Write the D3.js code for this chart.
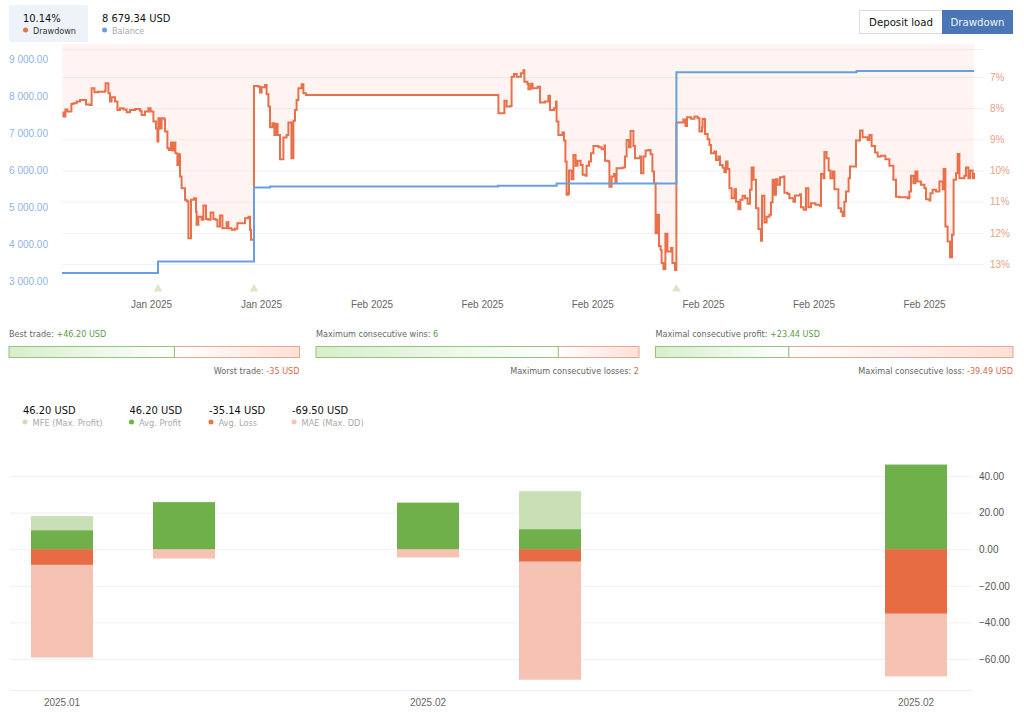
<!DOCTYPE html>
<html>
<head>
<meta charset="utf-8">
<script src="https://cdn.jsdelivr.net/npm/d3@7"></script>
<style>
  body { margin: 0; background: #fff; }
  text { font-family: "DejaVu Sans Condensed", "DejaVu Sans", sans-serif; }
  .axis text { font-family: "Liberation Sans", Arial, sans-serif; font-size: 10px; }
</style>
</head>
<body>
<div id="chart"></div>
<script>
// drawdown curve, time in trading steps, value in percent
const ddTime = [0.2,0.7,1.7,2.7,4.7,5.7,7.3,9,11,12,14,14.8,16.2,18.2,21.5,21.8,23.2,24,24.8,26.5,27.7,29,30.7,32.3,34,36.5,39,39.8,41.5,43.2,44.3,45.7,47,47.7,48.2,49,49.8,51.2,51.5,52.7,53.5,54.5,55.3,56.2,56.7,57.7,58.3,59,59.8,61.5,62.3,63.2,64.5,66,67,67.3,68.2,69.8,70.7,72,73.2,74.3,75.7,76.8,77.7,79,80.2,82.3,83.2,84.8,86.5,87.7,89.8,91.5,93.2,94,94.5,
  96,98.2,99,99.8,101.5,102.3,103.2,104,105.2,106.2,107.2,107.8,109,110.7,112.3,113.2,114.7,115.7,116.5,117.3,118.2,119.8,120.7,122,
  218.2,221.2,222.3,224.3,224.8,226,227.3,229.5,230.7,231.2,232.7,233.2,234.3,235.3,237.8,239,241.5,243.2,244,246,247,247.3,248.2,250.2,251,251.7,252.3,253.2,253.5,254.8,255.7,256.8,257.8,259.3,260.3,261.8,262.3,263.5,264.5,265.7,268.2,269.8,271.2,271.5,273.2,273.7,274.8,276,276.7,277.3,280.3,281.5,282.3,283.5,284.3,285.7,286.5,289,289.5,290.7,291.8,293.2,294.3,295.2,296,296.8,297.8,298.5,299.3,299.8,300.7,301.7,302.7,304.5,305.2,306.5,
  307.2,310,310.7,311.7,312.5,314.5,316.2,317.8,318.7,320,320.3,321.5,322.8,323.7,324.5,326.2,327,328.2,329,330.3,331.2,332,332.8,333.7,334.8,336.2,337,338.2,339.2,340.3,341.5,342.8,344,344.8,345.8,347,348.2,349.5,350,351.2,352.3,353.7,354.5,355.3,356.2,357,357.8,359,360.7,361.2,362.8,363.7,365.7,366.5,369,369.5,370.8,372,373.2,374.5,376.7,379,379.5,380.7,381.2,382.3,383.3,384.2,385.3,386.2,388.2,389.5,390.3,391.2,392,393.3,394,397,399,400.3,402.8,403.7,404.8,406.5,407.8,409.5,411.7,413.7,415.7,417,418.7,422.8,423.7,424.5,425.7,426.7,427.7,429.5,431.2,432,433.7,434.2,435.3,437,438.7,440.3,440.8,441.7,442.8,444,445,445.8,447,447.8,448.7,451.2,452,453.2,454,455.3,456];
const ddValues = [8.14,8.27,8.04,8.11,7.87,7.84,7.79,7.74,7.74,7.88,7.90,7.36,7.49,7.47,7.44,7.20,7.52,7.79,7.65,7.79,8.06,8.00,8.04,8.13,8.06,8.03,8.08,8.22,8.11,8.00,8.11,8.43,8.65,9.07,8.32,8.65,8.32,8.36,8.75,9.29,9.34,9.10,9.36,9.10,9.45,9.82,9.48,10.19,10.57,10.94,10.99,12.17,10.94,10.89,11.32,11.74,11.48,11.58,11.12,11.56,11.58,11.35,11.56,11.58,11.80,11.44,11.85,11.66,11.85,11.90,11.87,11.69,11.69,11.53,11.48,11.90,12.22,
  7.29,7.31,7.50,7.33,7.26,7.55,7.95,8.61,8.48,8.86,8.51,8.86,9.64,8.94,8.86,8.46,9.61,8.40,8.06,7.74,7.36,7.23,7.52,7.58,
  8.16,7.76,7.95,7.93,6.99,6.90,6.99,6.88,6.78,7.15,7.22,7.39,7.22,7.36,7.31,7.82,7.79,7.60,8.06,8.00,7.79,8.43,8.86,8.78,9.04,9.71,10.78,10.73,10.00,10.28,9.50,9.85,9.69,9.82,10.14,10.17,9.85,9.71,9.45,9.21,9.25,9.32,9.20,9.69,9.71,10.52,10.19,10.11,10.39,9.93,9.90,9.55,9.02,9.25,8.73,9.21,9.61,9.55,10.09,9.55,9.36,9.34,9.48,10.03,10.41,12.01,11.42,12.42,12.55,12.97,13.16,12.03,12.60,12.49,12.97,13.19,
  8.46,8.46,8.36,8.57,8.29,8.34,8.27,8.32,8.75,8.61,8.35,8.83,9.00,9.18,9.45,9.39,9.66,9.55,9.82,9.91,10.06,9.71,9.95,10.57,10.89,10.60,11.00,11.24,10.94,10.81,10.89,11.07,10.62,9.90,10.30,11.21,11.88,12.25,10.81,11.67,11.48,11.42,11.03,10.30,10.78,10.28,10.46,10.22,10.19,10.71,10.75,10.89,11.00,10.80,10.76,11.18,11.26,10.57,11.18,11.05,11.10,11.13,10.11,10.25,9.41,9.61,10.00,10.25,10.03,10.60,11.21,11.32,11.46,11.00,10.67,10.25,9.87,9.04,8.72,8.93,9.02,8.86,9.21,9.42,9.55,9.53,9.64,9.85,10.30,10.84,10.86,10.89,10.67,10.17,10.41,10.03,10.35,10.46,10.57,10.92,10.96,10.73,10.62,10.67,10.35,10.60,9.95,11.80,12.28,12.78,12.06,10.30,10.09,9.47,10.25,10.17,9.90,10.25,10.00,10.25,10.07];

// balance steps
const balanceTime = [0,48,96,104,218,247.3,307.2,397.3,456];
const balanceValues = [3217,3524,5525,5552,5571,5633,8643,8679,8679];

const depositMarks = [48,96,307.2];

const balanceTicks = [3000,4000,5000,6000,7000,8000,9000];
const pctTicks = [7,8,9,10,11,12,13];
const timeTicks = [44.5,99.5,154.75,210,265.15,320.5,375.75,431];
const timeLabels = ["Jan 2025","Jan 2025","Feb 2025","Feb 2025","Feb 2025","Feb 2025","Feb 2025","Feb 2025"];

// gauges
const gaugeTop = ["Best trade: ","Maximum consecutive wins: ","Maximal consecutive profit: "];
const gaugeTopVal = ["+46.20 USD","6","+23.44 USD"];
const gaugeBottom = ["Worst trade: ","Maximum consecutive losses: ","Maximal consecutive loss: "];
const gaugeBottomVal = ["-35 USD","2","-39.49 USD"];
const gaugeWin = [46.2,6,23.44];
const gaugeLoss = [35,2,39.49];

// monthly bars
const periods = ["p0","p1","p2","p3","p4","p5","p6","p7"];
const barPeriods = ["p0","p1","p3","p4","p7"];
const barLabels = ["2025.01","","","2025.02","","","","2025.02"];
const mfe = [18.1,25.7,25.4,31.7,46.2];
const avgProfit = [10.3,25.7,25.4,10.9,46.2];
const avgLoss = [-8.5,0,0,-6.7,-35.14];
const mae = [-59.2,-5.1,-4.5,-71.3,-69.5];
const barTicks = [-60,-40,-20,0,20,40];

const summaryVals = ["46.20 USD","46.20 USD","-35.14 USD","-69.50 USD"];
const summaryNames = ["MFE (Max. Profit)","Avg. Profit","Avg. Loss","MAE (Max. DD)"];

const red = "#e8704a", blue = "#6a9fdf", green = "#70b04a", lightGreen = "#c9e0b7", lightRed = "#f5c2b3";
const summaryColors = [lightGreen, green, red, lightRed];
const summaryX = [23,129.5,209,292];

const svg = d3.select("#chart").append("svg").attr("width", 1024).attr("height", 717).style("display", "block");

// header
svg.append("rect").attr("x", 9).attr("y", 5).attr("width", 79).attr("height", 37).attr("rx", 2).attr("fill", "#eef3fa");
svg.append("text").attr("x", 23).attr("y", 22).attr("font-size", 11).attr("fill", "#111").text("10.14%");
svg.append("circle").attr("cx", 25.5).attr("cy", 30).attr("r", 2.5).attr("fill", red);
svg.append("text").attr("x", 33).attr("y", 33.5).attr("font-size", 9).attr("fill", "#333").text("Drawdown");
svg.append("text").attr("x", 102).attr("y", 22).attr("font-size", 11).attr("fill", "#111").text("8 679.34 USD");
svg.append("circle").attr("cx", 104.5).attr("cy", 30).attr("r", 2.5).attr("fill", blue);
svg.append("text").attr("x", 112).attr("y", 33.5).attr("font-size", 9).attr("fill", "#aaa").text("Balance");

// buttons
svg.append("rect").attr("x", 859.5).attr("y", 10.5).attr("width", 83).attr("height", 23).attr("fill", "#fff").attr("stroke", "#ddd");
svg.append("text").attr("x", 901).attr("y", 25.5).attr("text-anchor", "middle").attr("font-size", 11.3).attr("fill", "#111").text("Deposit load");
svg.append("rect").attr("x", 942).attr("y", 10).attr("width", 71).attr("height", 24).attr("fill", "#4a76b5");
svg.append("text").attr("x", 977.5).attr("y", 25.5).attr("text-anchor", "middle").attr("font-size", 11.3).attr("fill", "#eef3fa").text("Drawdown");

// top chart scales
const x = d3.scaleLinear().domain([0, 456]).range([62, 974]);
const yBal = d3.scaleLinear().domain([3000, 9000]).range([281, 59]);
const yPct = d3.scaleLinear().domain([7, 13]).range([77, 264]);
const pctTop = 5.94, pctTopGrid = 6.1;

const ddPoints = ddTime.map((t, i) => [t, ddValues[i]]);
const balPoints = balanceTime.map((t, i) => [t, balanceValues[i]]);

svg.append("path")
  .attr("d", d3.area().curve(d3.curveStepAfter).x(d => x(d[0])).y0(yPct(pctTop)).y1(d => yPct(d[1]))(ddPoints))
  .attr("fill", "#fff4f1");

svg.append("g").selectAll("line").data([pctTopGrid].concat(pctTicks)).join("line")
  .attr("x1", x(0)).attr("x2", 984)
  .attr("y1", d => yPct(d) + 0.5).attr("y2", d => yPct(d) + 0.5)
  .attr("stroke", "#000").attr("stroke-opacity", 0.055);

svg.append("path")
  .attr("d", d3.line().curve(d3.curveStepAfter).x(d => x(d[0])).y(d => yPct(d[1]))(ddPoints))
  .attr("fill", "none").attr("stroke", red).attr("stroke-width", 2);

svg.append("path")
  .attr("d", d3.line().curve(d3.curveStepAfter).x(d => x(d[0])).y(d => yBal(d[1]))(balPoints))
  .attr("fill", "none").attr("stroke", blue).attr("stroke-width", 2);

// deposit markers
svg.append("g").selectAll("path").data(depositMarks).join("path")
  .attr("transform", d => `translate(${x(d)},289)`)
  .attr("d", d3.symbol().type(d3.symbolTriangle).size(34))
  .attr("fill", "#dfe4c8");

const spaced = d3.formatLocale({ decimal: ".", thousands: " ", grouping: [3], currency: ["", ""] }).format(",.2f");

const leftAxis = svg.append("g").attr("class", "axis").attr("transform", "translate(48,0)")
  .call(d3.axisLeft(yBal).tickValues(balanceTicks).tickFormat(spaced).tickSize(0).tickPadding(0));
leftAxis.select(".domain").remove();
leftAxis.selectAll("text").attr("fill", "#8fb3e6");

const rightAxis = svg.append("g").attr("class", "axis").attr("transform", "translate(990,0)")
  .call(d3.axisRight(yPct).tickValues(pctTicks).tickFormat(d => d + "%").tickSize(0).tickPadding(0));
rightAxis.select(".domain").remove();
rightAxis.selectAll("text").attr("fill", "#e99f87");

const timeAxis = svg.append("g").attr("class", "axis").attr("transform", "translate(0,300.5)")
  .call(d3.axisBottom(x).tickValues(timeTicks).tickFormat((d, i) => timeLabels[i]).tickSize(0).tickPadding(0));
timeAxis.select(".domain").remove();
timeAxis.selectAll("text").attr("fill", "#666");

// gauges
const gaugeX0 = [9,316,655.5], gaugeX1 = [299.5,639,1013];
const defs = svg.append("defs");
const gradGreen = defs.append("linearGradient").attr("id", "gaugeGreen");
gradGreen.append("stop").attr("offset", "0").attr("stop-color", "#d8eecc");
gradGreen.append("stop").attr("offset", "1").attr("stop-color", "#fff");
const gradRed = defs.append("linearGradient").attr("id", "gaugeRed");
gradRed.append("stop").attr("offset", "0").attr("stop-color", "#fff");
gradRed.append("stop").attr("offset", "1").attr("stop-color", "#fde0d6");

gaugeWin.forEach((w, i) => {
  const sc = d3.scaleLinear().domain([0, w + gaugeLoss[i]]).range([gaugeX0[i], gaugeX1[i]]);
  const split = sc(w);
  svg.append("rect").attr("x", split).attr("y", 346.5).attr("width", sc.range()[1] - split).attr("height", 11)
    .attr("fill", "url(#gaugeRed)").attr("stroke", "#eba591");
  svg.append("rect").attr("x", gaugeX0[i]).attr("y", 346.5).attr("width", split - gaugeX0[i]).attr("height", 11)
    .attr("fill", "url(#gaugeGreen)").attr("stroke", "#93c47d");
  const top = svg.append("text").attr("x", gaugeX0[i]).attr("y", 337).attr("font-size", 9).attr("fill", "#666");
  top.append("tspan").text(gaugeTop[i]);
  top.append("tspan").attr("fill", "#5f9a4a").text(gaugeTopVal[i]);
  const bot = svg.append("text").attr("x", gaugeX1[i]).attr("y", 373.5).attr("font-size", 9).attr("fill", "#666").attr("text-anchor", "end");
  bot.append("tspan").text(gaugeBottom[i]);
  bot.append("tspan").attr("fill", "#d9694a").text(gaugeBottomVal[i]);
});

// summary
summaryVals.forEach((v, i) => {
  svg.append("text").attr("x", summaryX[i]).attr("y", 414).attr("font-size", 11).attr("fill", "#111").text(v);
  svg.append("circle").attr("cx", summaryX[i] + 2).attr("cy", 422).attr("r", 2.5).attr("fill", summaryColors[i]);
  svg.append("text").attr("x", summaryX[i] + 9.5).attr("y", 425.5).attr("font-size", 9.2).attr("fill", "#aaa").text(summaryNames[i]);
});

// bottom chart
const xBar = d3.scaleBand().domain(periods).range([1, 977]).paddingInner(0.4918).paddingOuter(0.2459);
const yBar = d3.scaleLinear().domain([-60, 40]).range([659, 476]);

svg.append("g").selectAll("line").data(barTicks).join("line")
  .attr("x1", 10).attr("x2", 972)
  .attr("y1", d => yBar(d) + 0.5).attr("y2", d => yBar(d) + 0.5)
  .attr("stroke", "#f0f0f0");

const rowBars = (vals, color) => svg.append("g").selectAll("rect").data(vals).join("rect")
  .attr("x", (d, i) => xBar(barPeriods[i]))
  .attr("width", xBar.bandwidth())
  .attr("y", d => Math.min(yBar(d), yBar(0)))
  .attr("height", d => Math.abs(yBar(d) - yBar(0)))
  .attr("fill", color);
rowBars(mfe, lightGreen);
rowBars(mae, lightRed);
rowBars(avgProfit, green);
rowBars(avgLoss, "#e76b43");

const barAxis = svg.append("g").attr("class", "axis").attr("transform", "translate(979,0)")
  .call(d3.axisRight(yBar).tickValues(barTicks).tickFormat(d3.format(".2f")).tickSize(0).tickPadding(0));
barAxis.select(".domain").remove();
barAxis.selectAll("text").attr("fill", "#555");

const periodAxis = svg.append("g").attr("class", "axis").attr("transform", "translate(0,698.5)")
  .call(d3.axisBottom(xBar).tickFormat((d, i) => barLabels[i]).tickSize(0).tickPadding(0));
periodAxis.select(".domain").remove();
periodAxis.selectAll("text").attr("fill", "#666");

svg.append("line").attr("x1", 10).attr("x2", 972).attr("y1", 690.5).attr("y2", 690.5).attr("stroke", "#eee");
</script>
</body>
</html>
